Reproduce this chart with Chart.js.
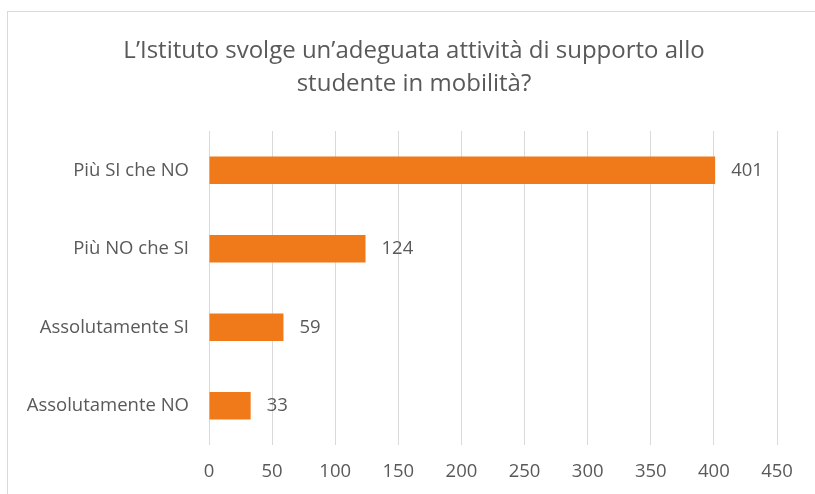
<!DOCTYPE html>
<html>
<head>
<meta charset="utf-8">
<script src="https://cdn.jsdelivr.net/npm/chart.js@4"></script>
<style>
  html, body { margin: 0; padding: 0; background: #fff; overflow: hidden; }
  #frame { position: absolute; left: 7px; top: 11px; width: 900px; height: 600px; border: 1px solid #d9d9d9; }
  #chart { position: absolute; left: 0; top: 0; }
</style>
</head>
<body>
<div id="frame"></div>
<canvas id="chart" width="815" height="494"></canvas>
<script>
// data
const titleLines = ['L\u2019Istituto svolge un\u2019adeguata attività di supporto allo', 'studente in mobilità?'];
const categories = ['Più SI che NO', 'Più NO che SI', 'Assolutamente SI', 'Assolutamente NO'];
const values = [401, 124, 59, 33];
const xMin = 0;
const xMax = 450;
const xStep = 50;

const textColor = '#595959';
const barColor = '#F0791A';
const gridColor = '#d9d9d9';
const fontFamily = '"Open Sans", sans-serif';
const tickSize = 18.5;

// title drawn by hand so it can sit slightly right of the canvas centre, like the original
const chartTitle = {
  id: 'chartTitle',
  afterDraw(chart) {
    const ctx = chart.ctx;
    ctx.save();
    ctx.font = '24px ' + fontFamily;
    ctx.fillStyle = textColor;
    ctx.textAlign = 'center';
    ctx.textBaseline = 'alphabetic';
    titleLines.forEach((line, i) => {
      ctx.fillText(line, 414, 58 + i * 33);
    });
    ctx.restore();
  }
};

// draw value next to each bar end
const valueLabels = {
  id: 'valueLabels',
  afterDatasetsDraw(chart) {
    const ctx = chart.ctx;
    const meta = chart.getDatasetMeta(0);
    ctx.save();
    ctx.font = tickSize + 'px ' + fontFamily;
    ctx.fillStyle = textColor;
    ctx.textAlign = 'left';
    ctx.textBaseline = 'middle';
    meta.data.forEach((bar, i) => {
      ctx.fillText(String(values[i]), bar.x + 16, bar.y);
    });
    ctx.restore();
  }
};

const ctx = document.getElementById('chart').getContext('2d');
new Chart(ctx, {
  type: 'bar',
  data: {
    labels: categories,
    datasets: [{
      data: values,
      backgroundColor: barColor,
      borderWidth: 0,
      categoryPercentage: 1,
      barPercentage: 0.35
    }]
  },
  options: {
    indexAxis: 'y',
    responsive: false,
    animation: false,
    layout: { padding: { left: 10, right: 38, top: 131, bottom: 0 } },
    plugins: {
      legend: { display: false },
      tooltip: { enabled: false },
      title: { display: false }
    },
    scales: {
      x: {
        min: xMin,
        max: xMax,
        ticks: { stepSize: xStep, color: textColor, font: { family: fontFamily, size: tickSize }, padding: 16 },
        grid: { color: gridColor, lineWidth: 1, drawTicks: false },
        border: { display: false },
        afterFit: s => { s.height = 49; }
      },
      y: {
        ticks: { color: textColor, font: { family: fontFamily, size: tickSize }, padding: 20 },
        grid: { display: false, drawTicks: false },
        border: { display: false },
        afterFit: s => { s.width = 199; }
      }
    }
  },
  plugins: [chartTitle, valueLabels]
});
</script>
</body>
</html>
